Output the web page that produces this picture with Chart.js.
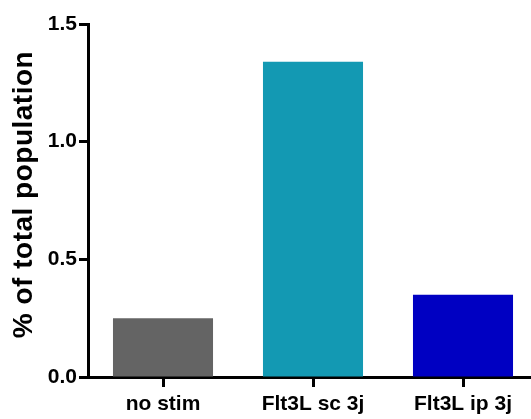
<!DOCTYPE html>
<html>
<head>
<meta charset="utf-8">
<script src="https://cdn.jsdelivr.net/npm/chart.js@4"></script>
<style>
    html, body { margin: 0; padding: 0; background: #fff; overflow: hidden; }
    #wrap { width: 538px; height: 419px; }
</style>
</head>
<body>
<div id="wrap"><canvas id="myChart"></canvas></div>
<script>
"use strict";

const categories = ['no stim', 'Flt3L sc 3j', 'Flt3L ip 3j'];
const values = [0.25, 1.34, 0.35];
const barColors = ['#646464', '#1399b3', '#0000c2'];
const yTicks = [0, 0.5, 1.0, 1.5];
const yTitle = '% of total population';

const font = 'Liberation Sans, Arial, sans-serif';

// spread the y title letters a little and lift it slightly, like the original
const titleSpacing = {
    id: 'titleSpacing',
    afterLayout(chart) {
        const scale = chart.scales.y;
        if (scale._spaced) return;
        const orig = scale.drawTitle;
        scale.drawTitle = function () {
            const ctx = this.ctx;
            ctx.save();
            ctx.letterSpacing = '0.5px';
            ctx.translate(0, -6);
            orig.apply(this, arguments);
            ctx.restore();
        };
        scale._spaced = true;
    }
};

function createConfig() {
    return {
        type: 'bar',
        data: {
            labels: categories,
            datasets: [{
                data: values,
                backgroundColor: barColors,
                borderWidth: 0,
                categoryPercentage: 1,
                barPercentage: 0.667,
            }],
        },
        options: {
            responsive: true,
            maintainAspectRatio: false,
            animation: false,
            layout: { padding: { top: 24, left: 0, right: 0, bottom: 0 } },
            plugins: { legend: { display: false }, tooltip: { enabled: false } },
            scales: {
                x: {
                    grid: {
                        offset: false,
                        drawOnChartArea: false,
                        color: '#000',
                        tickLength: 10,
                        tickWidth: 3,
                    },
                    border: { color: '#000', width: 3 },
                    ticks: {
                        color: '#000',
                        padding: 5,
                        maxRotation: 0,
                        font: { family: font, size: 21, weight: 'bold' },
                    },
                    afterFit(scale) { scale.height = 42; },
                },
                y: {
                    min: 0,
                    max: 1.5,
                    afterBuildTicks(scale) {
                        scale.ticks = yTicks.map(v => ({ value: v }));
                    },
                    grid: {
                        drawOnChartArea: false,
                        color: '#000',
                        tickLength: 9,
                        tickWidth: 3,
                    },
                    border: { color: '#000', width: 3 },
                    ticks: {
                        color: '#000',
                        padding: 2,
                        font: { family: font, size: 21, weight: 'bold' },
                        callback: v => v.toFixed(1),
                    },
                    title: {
                        display: true,
                        text: yTitle,
                        color: '#000',
                        padding: { top: 7, bottom: 0 },
                        font: { family: font, size: 28, weight: 'bold' },
                    },
                    afterFit(scale) { scale.width = 88; },
                },
            },
        },
        plugins: [titleSpacing],
    };
}

new Chart(document.getElementById('myChart'), createConfig());
</script>
</body>
</html>
